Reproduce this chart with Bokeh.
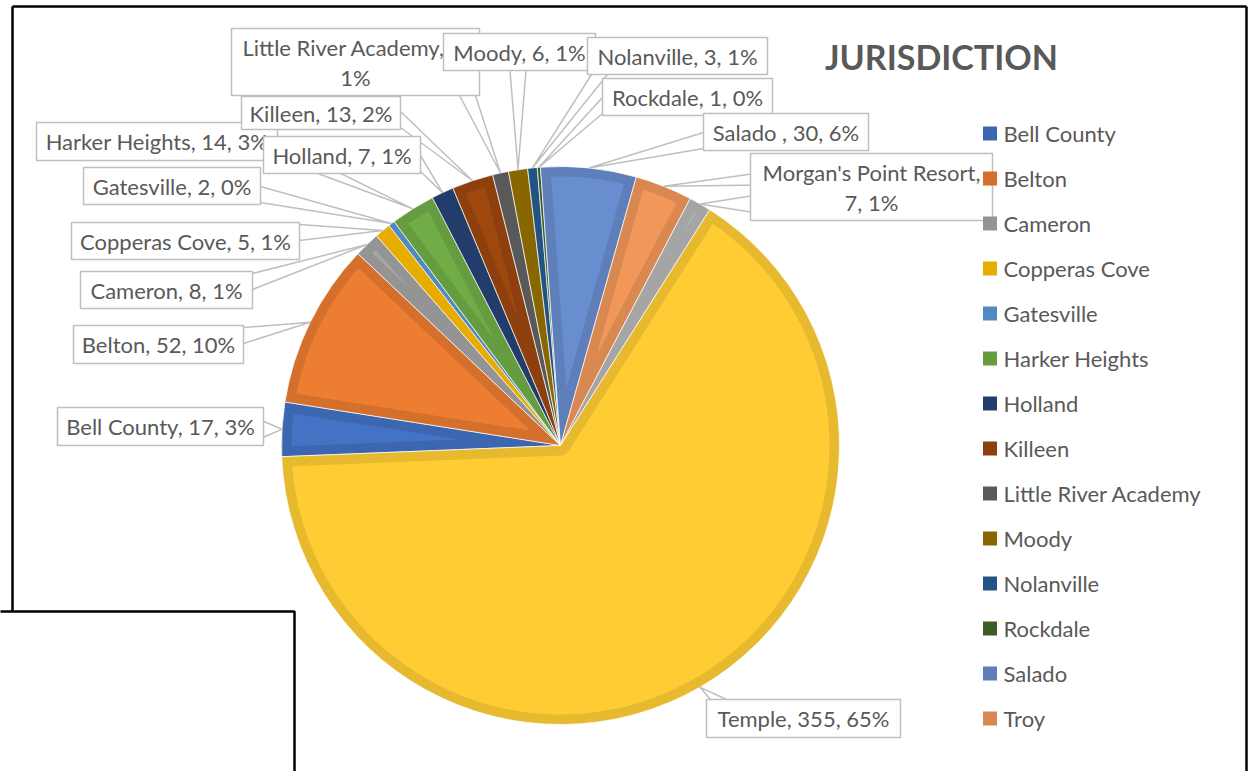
import numpy as np
from bokeh.plotting import figure
from bokeh.models import Range1d
from bokeh.core.properties import value
from bokeh.embed import file_html
from bokeh.resources import INLINE

# ---------------- data ----------------
title = "JURISDICTION"
categories = ["Bell County", "Belton", "Cameron", "Copperas Cove", "Gatesville",
              "Harker Heights", "Holland", "Killeen", "Little River Academy", "Moody",
              "Nolanville", "Rockdale", "Salado ", "Troy", "Morgan's Point Resort", "Temple"]
counts = [17, 52, 8, 5, 2, 14, 7, 13, 5, 6, 3, 1, 30, 18, 7, 355]
fill_colors = ["#4472C4", "#ED7D31", "#A5A5A5", "#FFC000", "#5B9BD5", "#70AD47",
               "#264478", "#9E480E", "#636363", "#997300", "#255E91", "#43682B",
               "#698ED0", "#F1975A", "#B7B7B7", "#FFCD33"]
edge_colors = ["#3D66B0", "#D56F2C", "#949494", "#E6AD00", "#5189C0", "#659C40",
               "#223C6B", "#8D400D", "#595959", "#896700", "#215482", "#3C5D26",
               "#5E7FBA", "#D98851", "#A5A5A5", "#E6B92E"]
legend_count = 14          # legend shows the first 14 entries (rest cut off)

# ---------------- layout ----------------
W, H = 1253, 771
CX, CY, R = 560, 445, 279
START = 267.7              # first slice start, degrees clockwise from 12 o'clock
BAND = 10                  # width of darker slice border
TXT = "#595959"
GRID = "#BFBFBF"
FONT = "Lato"
# label boxes (x0, y0, x1, y1) in page pixels
label_boxes = [(57, 407, 263, 445), (73, 325, 243, 363), (80, 271, 252, 308),
               (71, 222, 299, 259), (83, 167, 260, 204), (36, 122, 277, 160),
               (263, 136, 420, 173), (241, 96, 400, 129), (231, 28, 479, 95),
               (443, 33, 595, 70), (587, 37, 767, 74), (602, 78, 772, 115),
               (703, 113, 868, 150), (790, 149, 938, 186), (750, 153, 992, 220),
               (706, 699, 900, 737)]
label_shown = [True] * 13 + [False, True, True]   # Troy's label is hidden behind Morgan's
label_wrap = [None] * 8 + [2, None, None, None, None, None, 1, None]
LINE_PITCH = 30


def Y(y):
    return -np.asarray(y, dtype=float)


p = figure(width=W, height=H, x_range=Range1d(0, W), y_range=Range1d(-H, 0),
           toolbar_location=None, output_backend="svg", min_border=0,
           x_axis_location=None, y_axis_location=None, outline_line_color=None)
p.grid.visible = False
p.background_fill_color = "white"

vals = np.array(counts, dtype=float)
total = vals.sum()
pcts = np.round(vals / total * 100).astype(int)
cum = np.concatenate([[0], np.cumsum(vals)])
t1 = START + cum[:-1] / total * 360.0
t2 = START + cum[1:] / total * 360.0

# chart frame
p.segment(x0=[12, 12, 1246], y0=Y([6, 6, 6]), x1=[1246, 12, 1246], y1=Y([6, 640, 780]),
          line_color="black", line_width=2.5)

# ---------------- pie ----------------
def inset(a1, a2):
    a_lo = np.radians(90 - a2)
    a_hi = np.radians(90 - a1)
    span = a_hi - a_lo
    rp = R - BAND
    dlt = np.arcsin(BAND / rp)
    if span - 2 * dlt <= 0:
        return None
    arc = np.linspace(a_lo + dlt, a_hi - dlt, 80)
    xs = list(CX + rp * np.cos(arc))
    ys = list(-CY + rp * np.sin(arc))
    if span < np.pi:
        dv = BAND / np.sin(span / 2)
        if dv > rp - 3:
            return None
        mid = (a_lo + a_hi) / 2
        xs.append(CX + dv * np.cos(mid))
        ys.append(-CY + dv * np.sin(mid))
    else:
        small = np.linspace(a_hi - np.pi / 2, a_lo + np.pi / 2, 30)
        xs += list(CX + BAND * np.cos(small))
        ys += list(-CY + BAND * np.sin(small))
    return xs, ys


for i in range(len(categories)):
    p.wedge(x=CX, y=-CY, radius=R,
            start_angle=np.radians(90 - t2[i]), end_angle=np.radians(90 - t1[i]),
            fill_color=edge_colors[i], line_color="white", line_width=1, line_alpha=0.7)
    poly = inset(t1[i], t2[i])
    if poly is not None:
        p.patch(x=poly[0], y=poly[1], fill_color=fill_colors[i], line_color=None)

# ---------------- leader lines ----------------
mids = np.radians((t1 + t2) / 2)
ax = CX + R * np.sin(mids)
ay = CY - R * np.cos(mids)
lx, ly = [], []
HW = 8
for i, (x0, y0, x1, y1) in enumerate(label_boxes):
    px, py = ax[i], ay[i]
    d = {"l": x0 - px, "r": px - x1, "t": y0 - py, "b": py - y1}
    side = max(d, key=d.get)
    if side in ("t", "b"):
        ey = y0 if side == "t" else y1
        c = min(max(px, x0 + HW + 4), x1 - HW - 4)
        b1, b2 = (c - HW, ey), (c + HW, ey)
    else:
        ex = x0 if side == "l" else x1
        c = min(max(py, y0 + HW + 2), y1 - HW - 2)
        b1, b2 = (ex, c - HW), (ex, c + HW)
    lx.append([b1[0], px, b2[0]])
    ly.append(list(Y([b1[1], py, b2[1]])))
p.multi_line(xs=lx, ys=ly, line_color=GRID, line_width=1.5)

# ---------------- data labels ----------------
for i, (x0, y0, x1, y1) in enumerate(label_boxes):
    if not label_shown[i]:
        continue
    p.quad(left=x0, right=x1, top=-y0, bottom=-y1, fill_color="white",
           line_color=GRID, line_width=1.5)
    parts = [categories[i], str(counts[i]), f"{pcts[i]}%"]
    k = label_wrap[i]
    cx, cy = (x0 + x1) / 2, (y0 + y1) / 2
    if k is None:
        lines = [", ".join(parts)]
        ys_ = [cy]
    else:
        lines = [", ".join(parts[:k]) + ",", ", ".join(parts[k:])]
        ys_ = [cy - LINE_PITCH / 2, cy + LINE_PITCH / 2]
    p.text(x=[cx] * len(lines), y=Y(ys_), text=lines, text_font=value(FONT),
           text_font_size="22px", text_color=TXT, text_align="center",
           text_baseline="middle")

# ---------------- title ----------------
p.text(x=[941], y=Y([56]), text=[title], text_font=value(FONT), text_font_size="34px",
       text_font_style="bold", text_color=TXT, text_align="center", text_baseline="middle")

# ---------------- legend ----------------
ly0, lstep = 133, 45
leg_y = Y([ly0 + lstep * j for j in range(legend_count)])
p.rect(x=[989.5] * legend_count, y=leg_y, width=14, height=14,
       fill_color=edge_colors[:legend_count], line_color=None)
p.text(x=[1003] * legend_count, y=leg_y, text=categories[:legend_count],
       text_font=value(FONT), text_font_size="22px", text_color=TXT,
       text_align="left", text_baseline="middle")

# overlapping white box at bottom left
p.quad(left=-5, right=294, top=-611, bottom=-800, fill_color="white",
       line_color="black", line_width=2.5)

open("out.html", "w").write(file_html(p, INLINE))
